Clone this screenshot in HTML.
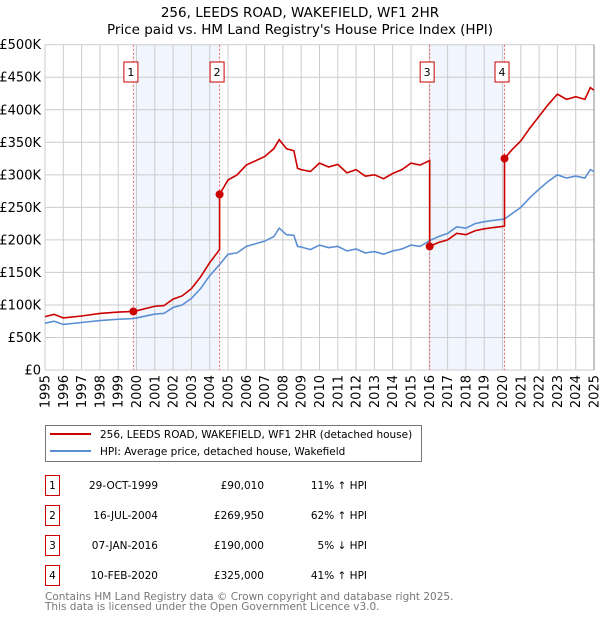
<!DOCTYPE html>
<html><head><meta charset="utf-8"><style>
body{margin:0;background:#fff;font-family:"DejaVu Sans","Liberation Sans",sans-serif;}
</style></head><body>
<svg id="chart" width="600" height="620" xmlns="http://www.w3.org/2000/svg" font-family="DejaVu Sans, Liberation Sans, sans-serif">
<text x="300" y="17" text-anchor="middle" font-size="13.5">256, LEEDS ROAD, WAKEFIELD, WF1 2HR</text>
<text x="300" y="34" text-anchor="middle" font-size="13.5">Price paid vs. HM Land Registry's House Price Index (HPI)</text>
<g id="plot"></g>
<g>
<rect x="45.5" y="425.5" width="376" height="36" fill="#fff" stroke="#777"/>
<line x1="50" y1="434" x2="91" y2="434" stroke="#cc0000" stroke-width="2"/>
<text x="100" y="438" font-size="10.5">256, LEEDS ROAD, WAKEFIELD, WF1 2HR (detached house)</text>
<line x1="50" y1="451" x2="91" y2="451" stroke="#5b8fd4" stroke-width="2"/>
<text x="100" y="455" font-size="10.5">HPI: Average price, detached house, Wakefield</text>
</g>
<g id="table" font-size="10.5"></g>
<text x="45" y="600" font-size="10.5" fill="#777">Contains HM Land Registry data © Crown copyright and database right 2025.</text>
<text x="45" y="610" font-size="10.5" fill="#777">This data is licensed under the Open Government Licence v3.0.</text>
</svg>
<script>
const hpiDates=[1995,1995.5,1996,1997,1998,1999,1999.83,2000,2001,2001.5,2002,2002.5,2003,2003.5,2004,2004.54,2005,2005.5,2006,2007,2007.5,2007.8,2008.2,2008.6,2008.8,2009,2009.5,2010,2010.5,2011,2011.5,2012,2012.5,2013,2013.5,2014,2014.5,2015,2015.5,2016.02,2016.5,2017,2017.5,2018,2018.5,2019,2019.5,2020.11,2020.5,2021,2021.5,2022,2022.5,2023,2023.5,2024,2024.5,2024.8,2025];
const hpiValues=[72,75,70,73,76,78,79,80,86,87,96,100,110,125,145,162,178,180,190,198,205,218,208,207,190,189,185,192,188,190,183,186,180,182,178,183,186,192,190,199,205,210,220,218,225,228,230,232,240,250,265,278,290,300,295,298,295,308,305];
const redDates=[1995,1995.5,1996,1997,1998,1999,1999.83,2000,2001,2001.5,2002,2002.5,2003,2003.5,2004,2004.54,2004.54,2005,2005.5,2006,2007,2007.5,2007.8,2008.2,2008.6,2008.8,2009,2009.5,2010,2010.5,2011,2011.5,2012,2012.5,2013,2013.5,2014,2014.5,2015,2015.5,2016.02,2016.02,2016.5,2017,2017.5,2018,2018.5,2019,2019.5,2020.11,2020.11,2020.5,2021,2021.5,2022,2022.5,2023,2023.5,2024,2024.5,2024.8,2025];
const redValues=[82,85.5,80,83,87,89,90,91,98,99,109,114,125,143,165,185,270,292,300,315,328,340,354,340,337,310,308,305,318,312,316,303,308,298,300,294,302,308,318,315,322,190,196,200,210,208,214,217,219,221,325,338,352,372,390,408,424,416,420,416,434,430];
const saleNums=["1","2","3","4"];
const saleDates=[1999.83,2004.54,2016.02,2020.11];
const saleValues=[90.01,269.95,190,325];
const saleDateLabels=["29-OCT-1999","16-JUL-2004","07-JAN-2016","10-FEB-2020"];
const salePriceLabels=["£90,010","£269,950","£190,000","£325,000"];
const saleHpiLabels=["11% ↑ HPI","62% ↑ HPI","5% ↓ HPI","41% ↑ HPI"];
const yTicks=[0,50,100,150,200,250,300,350,400,450,500];
const yTickLabels=["£0","£50K","£100K","£150K","£200K","£250K","£300K","£350K","£400K","£450K","£500K"];
const xTicks=[1995,1996,1997,1998,1999,2000,2001,2002,2003,2004,2005,2006,2007,2008,2009,2010,2011,2012,2013,2014,2015,2016,2017,2018,2019,2020,2021,2022,2023,2024,2025];

const NS="http://www.w3.org/2000/svg";
const L=45,R=594,T=44.7,B=370;
const X=d=>L+(d-1995)/30*(R-L);
const Y=v=>B-v/500*(B-T);
const plot=document.getElementById('plot');
function mk(tag,attrs,parent){const e=document.createElementNS(NS,tag);for(const k in attrs)e.setAttribute(k,attrs[k]);(parent||plot).appendChild(e);return e;}

for(let i=0;i<2;i++){
  const r=mk('rect',{x:X(saleDates[i*2]),y:T,width:X(saleDates[i*2+1])-X(saleDates[i*2]),height:B-T,fill:'#eef3fc',opacity:0.8});
  
  
}
yTicks.forEach((v,i)=>{
  const g=mk('line',{x1:L,x2:R,y1:Y(v),y2:Y(v),stroke:'#ccc','stroke-width':1});
  
  
  const t=mk('text',{x:L-4,y:Y(v)+4.5,'text-anchor':'end','font-size':'13'});
  t.textContent=yTickLabels[i];
  
  
});
xTicks.forEach(d=>{
  const g=mk('line',{x1:X(d),x2:X(d),y1:T,y2:B,stroke:'#ccc','stroke-width':1});
  
  
  const t=mk('text',{x:0,y:0,'text-anchor':'end','font-size':'13',transform:`translate(${X(d)+4.5},375) rotate(-90)`});
  t.textContent=String(d);
  
  
});
mk('line',{x1:R,x2:R,y1:T,y2:B,stroke:'#888','stroke-width':1});
saleDates.forEach((d,i)=>{
  const l=mk('line',{x1:X(d),x2:X(d),y1:T,y2:B,stroke:'#e66','stroke-width':1,'stroke-dasharray':'2,2'});
  
  
  const bx=X(d)-9.5;
  const b=mk('rect',{x:bx,y:62,width:14,height:20,fill:'#fff',stroke:'#c00','stroke-width':1});
  
  
  const t=mk('text',{x:bx+7,y:76,'text-anchor':'middle','font-size':'11'});
  t.textContent=saleNums[i];
  
  
});
const hp=mk('polyline',{points:hpiDates.map((d,i)=>X(d)+','+Y(hpiValues[i])).join(' '),fill:'none',stroke:'#5b8fd4','stroke-width':1.6});


const rp=mk('polyline',{points:redDates.map((d,i)=>X(d)+','+Y(redValues[i])).join(' '),fill:'none',stroke:'#cc0000','stroke-width':1.6});


saleDates.forEach((d,i)=>{
  const c=mk('circle',{cx:X(d),cy:Y(saleValues[i]),r:4,fill:'#cc0000'});
  
  
});
const tb=document.getElementById('table');
saleNums.forEach((n,i)=>{
  const y0=475+i*30;
  const b=mk('rect',{x:45.5,y:y0+0.5,width:14,height:20,fill:'#fff',stroke:'#c00'},tb);
  
  
  const t0=mk('text',{x:52.5,y:y0+14,'text-anchor':'middle'},tb);t0.textContent=n;
  
  
  const t1=mk('text',{x:158,y:y0+14,'text-anchor':'end'},tb);t1.textContent=saleDateLabels[i];
  
  
  const t2=mk('text',{x:264,y:y0+14,'text-anchor':'end'},tb);t2.textContent=salePriceLabels[i];
  
  
  const t3=mk('text',{x:367,y:y0+14,'text-anchor':'end'},tb);t3.textContent=saleHpiLabels[i];
  
  
});
</script>
</body></html>
